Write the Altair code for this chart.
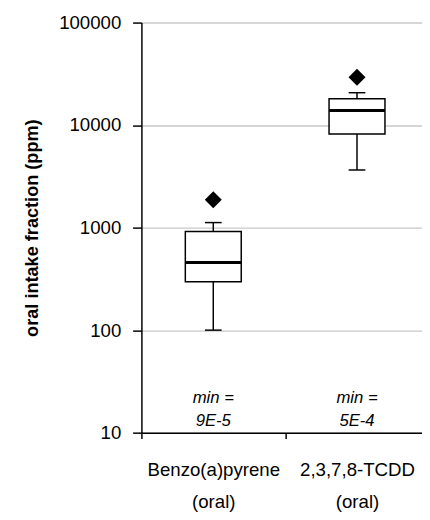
import altair as alt
import pandas as pd

# ---- data ----
categories = ["Benzo(a)pyrene\n(oral)", "2,3,7,8-TCDD\n(oral)"]
whisker_low = [100, 3650]
q1 = [297, 8200]
median = [456, 13900]
q3 = [915, 18100]
whisker_high = [1120, 20700]
outlier = [1870, 29300]
min_label = ["min =", "min ="]
min_value = ["9E-5", "5E-4"]
min_label_y = [21.5, 21.5]
min_value_y = [13.1, 13.1]
y_ticks = [10, 100, 1000, 10000, 100000]

df = pd.DataFrame({
    "cat": categories,
    "wlo": whisker_low,
    "q1": q1,
    "med": median,
    "q3": q3,
    "whi": whisker_high,
    "out": outlier,
    "mlab": min_label,
    "mval": min_value,
    "mlab_y": min_label_y,
    "mval_y": min_value_y,
})

FONT = "Liberation Sans"

x_enc = alt.X(
    "cat:N",
    sort=categories,
    scale=alt.Scale(domain=categories, paddingInner=0, paddingOuter=0),
    axis=alt.Axis(
        title=None,
        labelAngle=0,
        tickBand="extent",
        labelExpr="split(datum.label, '\\n')",
        domainColor="black",
        domainWidth=1.5,
        tickColor="black",
        tickWidth=1.5,
        tickSize=6,
        labelFont=FONT,
        labelFontSize=19,
        labelColor="black",
        labelLineHeight=32,
        labelPadding=23,
        grid=False,
        zindex=1,
    ),
)

y_scale = alt.Scale(type="log", domain=[10, 100000], nice=False)
y_axis = alt.Axis(
    title="oral intake fraction (ppm)",
    values=y_ticks,
    format="d",
    domainColor="black",
    domainWidth=1.5,
    tickColor="black",
    tickWidth=1.5,
    tickSize=9,
    labelFont=FONT,
    labelFontSize=19,
    labelColor="black",
    labelPadding=12,
    titleFont=FONT,
    titleFontSize=18.5,
    titleFontWeight="bold",
    titleColor="black",
    titlePadding=18,
    grid=True,
    gridColor="#c8c8c8",
    gridWidth=1.5,
)


def Y(field):
    return alt.Y(f"{field}:Q", scale=y_scale, axis=y_axis)


base = alt.Chart(df)

whisk_low = base.mark_rule(color="black", strokeWidth=1.5).encode(
    x=x_enc, y=Y("wlo"), y2="q1:Q")
whisk_high = base.mark_rule(color="black", strokeWidth=1.5).encode(
    x=x_enc, y=Y("q3"), y2="whi:Q")
cap_low = base.mark_tick(color="black", size=17, thickness=1.5, opacity=1).encode(
    x=x_enc, y=Y("wlo"))
cap_high = base.mark_tick(color="black", size=17, thickness=1.5, opacity=1).encode(
    x=x_enc, y=Y("whi"))
box = base.mark_bar(size=57, fill="white", stroke="black", strokeWidth=1.5).encode(
    x=x_enc, y=Y("q1"), y2="q3:Q")
med = base.mark_tick(color="black", size=57, thickness=3, opacity=1).encode(
    x=x_enc, y=Y("med"))
outl = base.mark_point(shape="diamond", size=300, filled=True, color="black", opacity=1).encode(
    x=x_enc, y=Y("out"))
t1 = base.mark_text(font=FONT, fontStyle="italic", fontSize=17, color="black").encode(
    x=x_enc, y=Y("mlab_y"), text="mlab:N")
t2 = base.mark_text(font=FONT, fontStyle="italic", fontSize=17, color="black").encode(
    x=x_enc, y=Y("mval_y"), text="mval:N")

chart = alt.layer(
    whisk_low, whisk_high, cap_low, cap_high, box, med, outl, t1, t2
).properties(
    width=422,
    height=504,
    autosize=alt.AutoSizeParams(type="fit", contains="padding"),
    padding={"left": 14, "top": 1, "right": -8, "bottom": -4},
    background="white",
).configure_view(stroke=None)

chart.save("out.html", embed_options={"renderer": "svg", "actions": False})
